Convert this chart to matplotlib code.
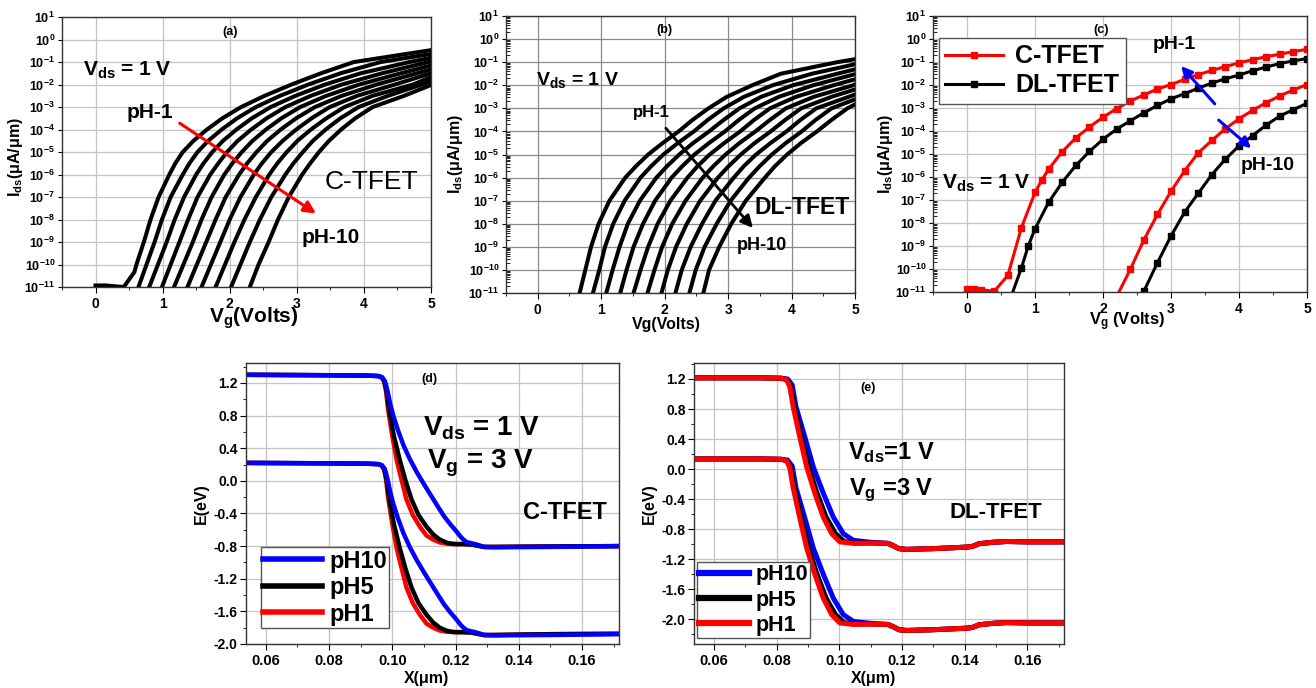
import numpy as np
import matplotlib
matplotlib.use("Agg")
import matplotlib.pyplot as plt
from matplotlib.ticker import MultipleLocator, FormatStrFormatter, NullLocator, LogLocator
from matplotlib.lines import Line2D

plt.rcParams.update({
    "font.family": ["Liberation Sans", "DejaVu Sans"],
    "font.weight": "bold",
    "axes.labelweight": "bold",
    "mathtext.fontset": "custom",
    "mathtext.rm": "Liberation Sans:bold",
    "mathtext.it": "Liberation Sans:bold:italic",
    "mathtext.bf": "Liberation Sans:bold",
})

# ---------------- transfer curves (a), (b): Vg where log10(Ids) crosses each level
levels = [-11, -10, -9, -8, -7, -6, -5.5, -5, -4.5, -4, -3.5, -3, -2.5, -2, -1.5, -1]
nan = np.nan

# C-TFET, pH 1 ... 10
vg_a = [
    [nan, 0.61, 0.72, 0.82, 0.94, 1.10, 1.19, 1.30, 1.46, 1.66, 1.89, 2.17, 2.52, 2.92, 3.36, 3.85],
    [0.64, 0.76, 0.88, 0.99, 1.12, 1.30, 1.40, 1.52, 1.68, 1.88, 2.11, 2.39, 2.75, 3.17, 3.65, 4.25],
    [0.80, 0.93, 1.06, 1.18, 1.32, 1.50, 1.61, 1.74, 1.90, 2.10, 2.33, 2.61, 2.98, 3.42, 3.95, 4.68],
    [0.99, 1.12, 1.25, 1.38, 1.52, 1.71, 1.83, 1.96, 2.12, 2.32, 2.55, 2.83, 3.21, 3.67, 4.27, 4.96],
    [1.17, 1.31, 1.45, 1.58, 1.73, 1.92, 2.04, 2.18, 2.34, 2.54, 2.77, 3.05, 3.44, 3.93, 4.55, nan],
    [1.37, 1.51, 1.65, 1.79, 1.94, 2.14, 2.26, 2.40, 2.56, 2.76, 2.99, 3.27, 3.67, 4.19, 4.79, nan],
    [1.58, 1.72, 1.86, 2.00, 2.16, 2.36, 2.48, 2.62, 2.79, 2.99, 3.22, 3.49, 3.90, 4.46, nan, nan],
    [1.79, 1.93, 2.07, 2.22, 2.39, 2.59, 2.71, 2.85, 3.01, 3.21, 3.44, 3.71, 4.13, 4.73, nan, nan],
    [2.02, 2.16, 2.30, 2.45, 2.62, 2.83, 2.95, 3.09, 3.24, 3.43, 3.65, 3.92, 4.36, 4.86, nan, nan],
    [2.30, 2.43, 2.58, 2.72, 2.88, 3.08, 3.20, 3.33, 3.48, 3.66, 3.87, 4.13, 4.60, nan, nan, nan],
]
end_a = [-0.47, -0.64, -0.81, -0.98, -1.15, -1.33, -1.50, -1.67, -1.84, -2.02]
head_a_vg = [0.0, 0.15, 0.30, 0.42, 0.58]        # leakage floor of the pH-1 curve
head_a_log = [-10.93, -10.93, -10.97, -11.0, -10.33]

# DL-TFET, pH 1 ... 10
vg_b = [
    [0.66, 0.75, 0.84, 0.96, 1.13, 1.38, 1.55, 1.74, 1.97, 2.22, 2.44, 2.69, 2.98, 3.38, 3.83, 4.72],
    [0.87, 0.97, 1.06, 1.19, 1.37, 1.62, 1.79, 1.98, 2.21, 2.46, 2.68, 2.93, 3.25, 3.70, 4.32, nan],
    [1.08, 1.18, 1.29, 1.42, 1.61, 1.87, 2.04, 2.23, 2.45, 2.70, 2.93, 3.18, 3.52, 4.02, 4.72, nan],
    [1.30, 1.40, 1.51, 1.66, 1.85, 2.11, 2.28, 2.47, 2.70, 2.95, 3.17, 3.42, 3.80, 4.34, nan, nan],
    [1.51, 1.62, 1.74, 1.89, 2.09, 2.36, 2.52, 2.71, 2.94, 3.19, 3.41, 3.66, 4.07, 4.66, nan, nan],
    [1.73, 1.84, 1.96, 2.12, 2.33, 2.60, 2.77, 2.96, 3.18, 3.43, 3.66, 3.91, 4.35, 4.97, nan, nan],
    [1.95, 2.05, 2.18, 2.35, 2.56, 2.84, 3.01, 3.20, 3.42, 3.67, 3.90, 4.15, 4.63, nan, nan, nan],
    [2.17, 2.27, 2.41, 2.59, 2.80, 3.09, 3.25, 3.44, 3.67, 3.92, 4.14, 4.39, 4.90, nan, nan, nan],
    [2.39, 2.49, 2.63, 2.82, 3.04, 3.33, 3.50, 3.69, 3.91, 4.16, 4.38, 4.63, nan, nan, nan, nan],
    [2.61, 2.70, 2.86, 3.05, 3.28, 3.58, 3.74, 3.93, 4.15, 4.40, 4.63, 4.88, nan, nan, nan, nan],
]
end_b = [-0.87, -1.09, -1.31, -1.52, -1.74, -1.96, -2.18, -2.40, -2.61, -2.83]

# ---------------- comparison (c): log10(Ids)
c_red1_vg = [0, 0.1, 0.2, 0.4, 0.6, 0.8, 1.0, 1.1, 1.2, 1.4, 1.6, 1.8, 2.0, 2.2, 2.4, 2.6, 2.8,
             3.0, 3.2, 3.4, 3.6, 3.8, 4.0, 4.2, 4.4, 4.6, 4.8, 5.0]
c_red1_log = [-10.88, -10.88, -10.9, -10.97, -10.28, -8.2, -6.67, -6.13, -5.66, -4.9, -4.3, -3.83,
              -3.4, -3.03, -2.7, -2.43, -2.18, -1.98, -1.76, -1.55, -1.37, -1.2, -1.04, -0.9,
              -0.77, -0.66, -0.55, -0.45]
c_blk1_vg = [0.6, 0.8, 0.9, 1.0, 1.2, 1.4, 1.6, 1.8, 2.0, 2.2, 2.4, 2.6, 2.8, 3.0, 3.2, 3.4,
             3.6, 3.8, 4.0, 4.2, 4.4, 4.6, 4.8, 5.0]
c_blk1_log = [-11.6, -9.95, -9.0, -8.25, -7.1, -6.23, -5.5, -4.89, -4.36, -3.92, -3.56, -3.21,
              -2.89, -2.6, -2.38, -2.14, -1.92, -1.73, -1.57, -1.38, -1.22, -1.07, -0.95, -0.85]
c_red10_vg = [2.2, 2.4, 2.6, 2.8, 3.0, 3.2, 3.4, 3.6, 3.8, 4.0, 4.2, 4.4, 4.6, 4.8, 5.0]
c_red10_log = [-11.2, -10.02, -8.74, -7.63, -6.62, -5.73, -4.95, -4.41, -3.9, -3.47, -3.1,
               -2.77, -2.47, -2.22, -1.98]
c_blk10_vg = [2.6, 2.8, 3.0, 3.2, 3.4, 3.6, 3.8, 4.0, 4.2, 4.4, 4.6, 4.8, 5.0]
c_blk10_log = [-10.97, -9.73, -8.56, -7.53, -6.71, -5.9, -5.22, -4.65, -4.2, -3.74, -3.35,
               -3.07, -2.8]

# ---------------- band diagrams (d) C-TFET
d_x_ph1 = [0.054, 0.080, 0.092, 0.0955, 0.0966, 0.0974, 0.0980, 0.0987, 0.1000, 0.1014, 0.1030,
           0.1045, 0.1065, 0.1087, 0.1108, 0.1129, 0.1150, 0.1172, 0.1200, 0.1225, 0.1250,
           0.1270, 0.1290, 0.1320, 0.1500, 0.1720]
d_ec_ph1 = [1.30, 1.295, 1.29, 1.285, 1.27, 1.22, 1.10, 0.87, 0.55, 0.25, 0.0, -0.23, -0.42,
            -0.56, -0.67, -0.72, -0.755, -0.77, -0.775, -0.775, -0.78, -0.795, -0.81, -0.81,
            -0.805, -0.80]
d_ev_ph1 = [0.22, 0.215, 0.21, 0.205, 0.19, 0.14, 0.02, -0.21, -0.53, -0.83, -1.08, -1.31,
            -1.50, -1.64, -1.75, -1.80, -1.835, -1.85, -1.855, -1.855, -1.86, -1.875, -1.89,
            -1.89, -1.88, -1.875]
d_x_ph5 = [0.054, 0.080, 0.092, 0.0955, 0.0966, 0.0975, 0.0982, 0.0990, 0.1005, 0.1024, 0.1042,
           0.1061, 0.1083, 0.1108, 0.1130, 0.1150, 0.1170, 0.1185, 0.1200, 0.1225, 0.1250,
           0.1270, 0.1290, 0.1320, 0.1500, 0.1720]
d_ec_ph5 = [1.30, 1.295, 1.29, 1.285, 1.27, 1.22, 1.10, 0.87, 0.55, 0.25, 0.0, -0.23, -0.42,
            -0.56, -0.66, -0.72, -0.755, -0.77, -0.775, -0.775, -0.78, -0.795, -0.81, -0.81,
            -0.805, -0.80]
d_ev_ph5 = [0.22, 0.215, 0.21, 0.205, 0.19, 0.14, 0.02, -0.21, -0.53, -0.83, -1.08, -1.31,
            -1.50, -1.64, -1.74, -1.80, -1.835, -1.85, -1.855, -1.855, -1.86, -1.875, -1.89,
            -1.89, -1.88, -1.875]
d_x_ph10 = [0.054, 0.080, 0.092, 0.0955, 0.0968, 0.0977, 0.0985, 0.0993, 0.1003, 0.1018, 0.1035,
            0.1055, 0.1077, 0.1100, 0.1124, 0.1145, 0.1163, 0.1183, 0.1203, 0.1215, 0.1225,
            0.1235, 0.1250, 0.1262, 0.1275, 0.1290, 0.1320, 0.1500, 0.1720]
d_ec_ph10 = [1.30, 1.295, 1.29, 1.285, 1.27, 1.22, 1.10, 0.95, 0.80, 0.62, 0.44, 0.27, 0.11,
             -0.04, -0.19, -0.32, -0.43, -0.53, -0.62, -0.68, -0.72, -0.75, -0.765, -0.775,
             -0.79, -0.81, -0.815, -0.81, -0.80]
d_ev_ph10 = [0.22, 0.215, 0.21, 0.205, 0.19, 0.14, 0.02, -0.13, -0.28, -0.46, -0.64, -0.81,
             -0.97, -1.12, -1.27, -1.40, -1.51, -1.61, -1.70, -1.76, -1.80, -1.83, -1.845,
             -1.855, -1.87, -1.89, -1.895, -1.89, -1.88]

# ---------------- band diagrams (e) DL-TFET
e_x_ph1 = [0.054, 0.075, 0.0815, 0.0832, 0.0842, 0.0853, 0.0874, 0.0896, 0.0922, 0.0949, 0.0976,
           0.1002, 0.1045, 0.1100, 0.1155, 0.1172, 0.1190, 0.1215, 0.1300, 0.1405, 0.1425,
           0.1445, 0.1490, 0.1534, 0.1600, 0.1720]
e_ec_ph1 = [1.215, 1.215, 1.21, 1.19, 1.10, 0.83, 0.43, 0.03, -0.32, -0.64, -0.86, -0.97, -0.99,
            -0.985, -0.99, -1.02, -1.06, -1.07, -1.06, -1.04, -1.03, -0.995, -0.975, -0.965,
            -0.97, -0.97]
e_ev_ph1 = [0.135, 0.135, 0.13, 0.11, 0.02, -0.25, -0.65, -1.05, -1.40, -1.72, -1.94, -2.05,
            -2.07, -2.065, -2.07, -2.10, -2.14, -2.15, -2.14, -2.12, -2.11, -2.075, -2.055,
            -2.045, -2.05, -2.05]
e_x_ph5 = [0.054, 0.075, 0.0815, 0.0833, 0.0845, 0.0857, 0.0879, 0.0902, 0.0929, 0.0958, 0.0988,
           0.1015, 0.1050, 0.1100, 0.1155, 0.1172, 0.1190, 0.1215, 0.1300, 0.1405, 0.1425,
           0.1445, 0.1490, 0.1534, 0.1600, 0.1720]
e_ec_ph5 = [1.215, 1.215, 1.21, 1.19, 1.10, 0.83, 0.43, 0.03, -0.32, -0.64, -0.86, -0.965,
            -0.985, -0.985, -0.99, -1.02, -1.06, -1.07, -1.06, -1.04, -1.03, -0.995, -0.975,
            -0.965, -0.97, -0.97]
e_ev_ph5 = [0.135, 0.135, 0.13, 0.11, 0.02, -0.25, -0.65, -1.05, -1.40, -1.72, -1.94, -2.045,
            -2.065, -2.065, -2.07, -2.10, -2.14, -2.15, -2.14, -2.12, -2.11, -2.075, -2.055,
            -2.045, -2.05, -2.05]
e_x_ph10 = [0.054, 0.075, 0.0815, 0.0835, 0.0850, 0.0862, 0.0890, 0.0917, 0.0949, 0.0981,
            0.1013, 0.1045, 0.1100, 0.1155, 0.1172, 0.1190, 0.1215, 0.1300, 0.1405, 0.1425,
            0.1445, 0.1490, 0.1534, 0.1600, 0.1720]
e_ec_ph10 = [1.215, 1.215, 1.21, 1.20, 1.12, 0.83, 0.43, 0.03, -0.32, -0.64, -0.86, -0.95,
             -0.975, -0.99, -1.02, -1.06, -1.07, -1.06, -1.04, -1.03, -0.995, -0.975, -0.965,
             -0.97, -0.97]
e_ev_ph10 = [0.135, 0.135, 0.13, 0.12, 0.04, -0.25, -0.65, -1.05, -1.40, -1.72, -1.94, -2.03,
             -2.055, -2.07, -2.10, -2.14, -2.15, -2.14, -2.12, -2.11, -2.075, -2.055, -2.045,
             -2.05, -2.05]

GRID = "#c4c4c4"


def setup_log(ax, grid_color=GRID, minor_y=False):
    ax.set_yscale("log")
    ax.set_xlim(-0.5, 5)
    ax.set_ylim(1e-11, 10)
    ax.set_yticks([10.0 ** k for k in range(-11, 2)])
    if minor_y:
        ax.yaxis.set_minor_locator(LogLocator(base=10, subs=np.arange(2, 10), numticks=30))
        ax.tick_params(axis="y", which="minor", direction="in", length=3)
    else:
        ax.yaxis.set_minor_locator(NullLocator())
    ax.xaxis.set_major_locator(MultipleLocator(1))
    ax.xaxis.set_minor_locator(MultipleLocator(0.5))
    ax.tick_params(axis="x", which="major", labelsize=10, length=4)
    ax.tick_params(axis="x", which="minor", length=2.5)
    ax.tick_params(axis="y", which="major", labelsize=9, length=3, pad=2)
    ax.grid(True, which="major", color=grid_color, lw=0.9)
    ax.set_axisbelow(True)


def draw_family(ax, table, ends, head=None):
    lev = np.array(levels, dtype=float)
    for i, (row, end) in enumerate(zip(table, ends)):
        row = np.array(row, dtype=float)
        ok = ~np.isnan(row)
        x = np.append(row[ok], 5.0)
        y = np.append(lev[ok], end)
        if i == 0 and head is not None:
            x = np.concatenate([head[0], x])
            y = np.concatenate([head[1], y])
        ax.plot(x, 10.0 ** y, color="black", lw=2.9, solid_joinstyle="round")


def setup_band(ax, ymin, ymax):
    ax.set_xlim(0.0537, 0.1717)
    ax.set_ylim(ymin, ymax)
    ax.xaxis.set_major_locator(MultipleLocator(0.02))
    ax.xaxis.set_minor_locator(MultipleLocator(0.01))
    ax.yaxis.set_major_locator(MultipleLocator(0.4))
    ax.yaxis.set_minor_locator(MultipleLocator(0.2))
    ax.xaxis.set_major_formatter(FormatStrFormatter("%.2f"))
    ax.yaxis.set_major_formatter(FormatStrFormatter("%.1f"))
    ax.tick_params(axis="x", which="major", labelsize=10.5, length=4)
    ax.tick_params(axis="y", which="major", labelsize=10, length=4, pad=2)
    ax.tick_params(which="minor", length=2.5)
    ax.grid(True, which="major", color=GRID, lw=0.9)
    ax.set_axisbelow(True)
    ax.set_xlabel("X(μm)", fontsize=11.5)
    ax.set_ylabel("E(eV)", fontsize=11.5)
    ax.xaxis.set_label_coords(0.485, -0.095)
    ax.yaxis.set_label_coords(-0.10, 0.5)


fig = plt.figure(figsize=(13.16, 6.88), dpi=100)

# ---------------- (a)
ax = fig.add_axes([0.0471, 0.5828, 0.2804, 0.3924])
setup_log(ax)
draw_family(ax, vg_a, end_a, head=(head_a_vg, head_a_log))
ax.set_xlabel(r"V$_\mathregular{g}$(Volts)", fontsize=15)
ax.set_ylabel(r"I$_\mathregular{ds}$(μA/μm)", fontsize=11.5)
ax.xaxis.set_label_coords(0.52, -0.07)
ax.yaxis.set_label_coords(-0.10, 0.48)
ax.text(2.0, 10 ** 0.33, "(a)", fontsize=9, ha="center", va="center")
ax.text(-0.19, 10 ** -1.36, r"V$_\mathregular{ds}$ = 1 V", fontsize=15, va="center")
ax.text(0.46, 10 ** -3.22, "pH-1", fontsize=15, va="center")
ax.text(3.07, 10 ** -8.78, "pH-10", fontsize=15, va="center")
ax.text(3.42, 10 ** -6.33, "C-TFET", fontsize=19, fontweight="normal", va="center")
ax.annotate("", xy=(3.32, 10 ** -7.8), xytext=(1.22, 10 ** -3.65),
            arrowprops=dict(arrowstyle="-|>", color="red", lw=2.2, mutation_scale=18))

# ---------------- (b)
ax = fig.add_axes([0.3845, 0.5741, 0.2652, 0.4026])
setup_log(ax, grid_color="#8a8a8a", minor_y=True)
draw_family(ax, vg_b, end_b)
ax.set_xlabel("Vg(Volts)", fontsize=11.5)
ax.set_ylabel(r"I$_\mathregular{ds}$(μA/μm)", fontsize=11.5)
ax.xaxis.set_label_coords(0.46, -0.085)
ax.yaxis.set_label_coords(-0.117, 0.5)
ax.text(2.0, 10 ** 0.39, "(b)", fontsize=9, ha="center", va="center")
ax.text(-0.02, 10 ** -1.77, r"V$_\mathregular{ds}$ = 1 V", fontsize=14, va="center")
ax.text(1.5, 10 ** -3.16, "pH-1", fontsize=12, va="center")
ax.text(3.14, 10 ** -8.92, "pH-10", fontsize=13, va="center")
ax.text(3.42, 10 ** -7.28, "DL-TFET", fontsize=16.5, va="center")
ax.annotate("", xy=(3.42, 10 ** -8.27), xytext=(1.99, 10 ** -3.77),
            arrowprops=dict(arrowstyle="-|>", color="black", lw=2.0, mutation_scale=18))

# ---------------- (c)
ax = fig.add_axes([0.7090, 0.5756, 0.2842, 0.4012])
setup_log(ax, minor_y=True)
mk = dict(marker="s", ms=4.5, lw=2.2)
ax.plot(c_red1_vg, 10.0 ** np.array(c_red1_log), color="red", label="C-TFET", **mk)
ax.plot(c_blk1_vg, 10.0 ** np.array(c_blk1_log), color="black", label="DL-TFET", **mk)
ax.plot(c_red10_vg, 10.0 ** np.array(c_red10_log), color="red", **mk)
ax.plot(c_blk10_vg, 10.0 ** np.array(c_blk10_log), color="black", **mk)
ax.set_xlabel(r"V$_\mathregular{g}$ (Volts)", fontsize=12)
ax.set_ylabel(r"I$_\mathregular{ds}$(μA/μm)", fontsize=11.5)
ax.xaxis.set_label_coords(0.519, -0.068)
ax.yaxis.set_label_coords(-0.102, 0.5)
ax.text(1.97, 10 ** 0.39, "(c)", fontsize=9, ha="center", va="center")
ax.text(2.73, 10 ** -0.26, "pH-1", fontsize=14, va="center")
ax.text(4.02, 10 ** -5.48, "pH-10", fontsize=14, va="center")
ax.text(-0.37, 10 ** -6.26, r"V$_\mathregular{ds}$ = 1 V", fontsize=15, va="center")
ax.annotate("", xy=(3.12, 10 ** -1.09), xytext=(3.67, 10 ** -2.91),
            arrowprops=dict(arrowstyle="-|>", color="blue", lw=2.2, mutation_scale=16))
ax.annotate("", xy=(4.21, 10 ** -4.83), xytext=(3.67, 10 ** -3.45),
            arrowprops=dict(arrowstyle="-|>", color="blue", lw=2.2, mutation_scale=16))
ax.legend(loc="upper left", bbox_to_anchor=(0.016, 0.92), borderaxespad=0, fontsize=18,
          fancybox=False, edgecolor="#555555", framealpha=1, handlelength=2.3,
          handletextpad=0.5, labelspacing=0.2, borderpad=0.25)

# ---------------- (d)
ax = fig.add_axes([0.1869, 0.0640, 0.2834, 0.4084])
setup_band(ax, -2.0, 1.445)
for x, ec, ev, col in [(d_x_ph1, d_ec_ph1, d_ev_ph1, "red"),
                       (d_x_ph5, d_ec_ph5, d_ev_ph5, "black"),
                       (d_x_ph10, d_ec_ph10, d_ev_ph10, "blue")]:
    ax.plot(x, ec, color=col, lw=3.2, solid_joinstyle="round")
    ax.plot(x, ev, color=col, lw=3.2, solid_joinstyle="round")
ax.text(0.1119, 1.245, "(d)", fontsize=9, ha="center", va="center")
ax.text(0.1097, 0.646, r"V$_\mathregular{ds}$ = 1 V", fontsize=20, va="center")
ax.text(0.1109, 0.218, r"V$_\mathregular{g}$ = 3 V", fontsize=20, va="center")
ax.text(0.1413, -0.394, "C-TFET", fontsize=17, va="center")
handles = [Line2D([], [], color=c, lw=4) for c in ("blue", "black", "red")]
ax.legend(handles, ["pH10", "pH5", "pH1"], loc="lower left", bbox_to_anchor=(0.04, 0.057),
          borderaxespad=0, fontsize=17, fancybox=False, edgecolor="#555555", framealpha=1,
          handlelength=2.5, handletextpad=0.3, labelspacing=0.15, borderpad=0.1)

# ---------------- (e)
ax = fig.add_axes([0.5274, 0.0640, 0.2812, 0.4084])
setup_band(ax, -2.33, 1.413)
for x, ec, ev, col in [(e_x_ph10, e_ec_ph10, e_ev_ph10, "blue"),
                       (e_x_ph5, e_ec_ph5, e_ev_ph5, "black"),
                       (e_x_ph1, e_ec_ph1, e_ev_ph1, "red")]:
    ax.plot(x, ec, color=col, lw=3.6, solid_joinstyle="round")
    ax.plot(x, ev, color=col, lw=3.6, solid_joinstyle="round")
ax.text(0.1092, 1.084, "(e)", fontsize=9, ha="center", va="center")
ax.text(0.1028, 0.215, r"V$_\mathregular{ds}$=1 V", fontsize=17, va="center")
ax.text(0.1031, -0.28, r"V$_\mathregular{g}$ =3 V", fontsize=17, va="center")
ax.text(0.1353, -0.574, "DL-TFET", fontsize=16, va="center")
handles = [Line2D([], [], color=c, lw=4.5) for c in ("blue", "black", "red")]
ax.legend(handles, ["pH10", "pH5", "pH1"], loc="lower left", bbox_to_anchor=(0.008, 0.021),
          borderaxespad=0, fontsize=15.5, fancybox=False, edgecolor="#555555", framealpha=1,
          handlelength=2.3, handletextpad=0.3, labelspacing=0.2, borderpad=0.1)

for a in fig.axes:
    for s in a.spines.values():
        s.set_color("#333333")
        s.set_linewidth(1.0)

fig.savefig("out.png", dpi=100, facecolor="white")
